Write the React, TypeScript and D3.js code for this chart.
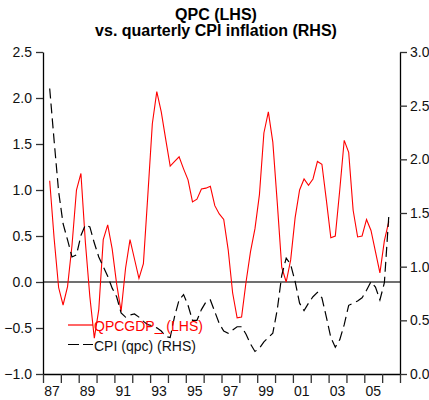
import { useEffect, useRef } from "react";
import * as d3 from "d3";

// quarterly series, 1987Q2 .. 2006Q2
const startYear = 1987;
const startQuarter = 2;

const qpcGdp = [
  1.10, 0.47, -0.06, -0.25, -0.05, 0.40, 1.00, 1.18, 0.43, -0.16,
  -0.61, -0.30, 0.46, 0.62, 0.36, -0.02, -0.32, 0.15, 0.46, 0.25,
  0.04, 0.20, 0.95, 1.72, 2.07, 1.85, 1.55, 1.26, 1.31, 1.36,
  1.23, 1.11, 0.87, 0.90, 1.01, 1.02, 1.04, 0.83, 0.74, 0.68,
  0.35, -0.12, -0.39, -0.38, 0.00, 0.33, 0.58, 0.95, 1.62, 1.85,
  1.52, 0.86, 0.16, 0.00, 0.24, 0.70, 1.00, 1.12, 1.05, 1.12,
  1.31, 1.28, 0.89, 0.48, 0.50, 1.00, 1.54, 1.41, 0.78, 0.49,
  0.50, 0.68, 0.56, 0.33, 0.10, 0.45, 0.66,
];

const cpiQpc = [
  2.66, 2.17, 1.70, 1.40, 1.25, 1.09, 1.11, 1.29, 1.39, 1.37,
  1.22, 1.09, 1.00, 0.91, 0.80, 0.72, 0.57, 0.53, 0.55, 0.56,
  0.53, 0.49, 0.46, 0.45, 0.43, 0.40, 0.35, 0.34, 0.54, 0.69,
  0.74, 0.64, 0.50, 0.50, 0.60, 0.67, 0.69, 0.58, 0.47, 0.40,
  0.38, 0.41, 0.44, 0.44, 0.37, 0.28, 0.21, 0.24, 0.30, 0.34,
  0.38, 0.60, 0.92, 1.08, 1.02, 0.86, 0.66, 0.59, 0.66, 0.72,
  0.76, 0.71, 0.53, 0.34, 0.25, 0.32, 0.46, 0.64, 0.66, 0.68,
  0.71, 0.78, 0.86, 0.81, 0.69, 0.85, 1.48,
];

const leftTicks = [2.5, 2.0, 1.5, 1.0, 0.5, 0.0, -0.5, -1.0];
const rightTicks = [3.0, 2.5, 2.0, 1.5, 1.0, 0.5, 0.0];
const yearLabels = ["87", "89", "91", "93", "95", "97", "99", "01", "03", "05"];

const titleLines = ["QPC (LHS)", "vs. quarterly CPI inflation (RHS)"];
const legendNames = ["QPCGDP_ (LHS)", "CPI (qpc) (RHS)"];

const FONT = "'Liberation Sans', Arial, sans-serif";

export default function App() {
  const svgRef = useRef<SVGSVGElement>(null);

  useEffect(() => {
    if (!svgRef.current) return;
    const svg = d3.select(svgRef.current);
    svg.selectAll("*").remove();

    const width = 429;
    const height = 400;
    const margin = { top: 52, right: 29, bottom: 26, left: 43 };

    svg.attr("width", width).attr("height", height);

    const x = d3
      .scaleLinear()
      .domain([1987, 2007])
      .range([margin.left, width - margin.right]);
    const yL = d3
      .scaleLinear()
      .domain([-1, 2.5])
      .range([height - margin.bottom, margin.top]);
    const yR = d3
      .scaleLinear()
      .domain([0, 3])
      .range([height - margin.bottom, margin.top]);

    const dates = qpcGdp.map(
      (_d, i) => startYear + (startQuarter - 1 + i) / 4 + 0.125
    );

    // title
    const title = svg
      .append("text")
      .attr("text-anchor", "middle")
      .attr("font-family", FONT)
      .attr("font-weight", "bold")
      .attr("font-size", 16)
      .attr("fill", "#000");
    titleLines.forEach((t, i) => {
      title
        .append("tspan")
        .attr("x", 216)
        .attr("y", 20 + i * 16)
        .text(t);
    });

    // zero line
    svg
      .append("line")
      .attr("x1", x(1987))
      .attr("x2", x(2007))
      .attr("y1", yL(0))
      .attr("y2", yL(0))
      .attr("stroke", "#707070")
      .attr("stroke-width", 2);

    // left axis
    const leftAxis = d3
      .axisLeft(yL)
      .tickValues(leftTicks)
      .tickFormat(d3.format(".1f"))
      .tickSize(7)
      .tickSizeOuter(0)
      .tickPadding(4);
    const gl = svg
      .append("g")
      .attr("transform", `translate(${margin.left},0)`)
      .call(leftAxis);

    // right axis
    const rightAxis = d3
      .axisRight(yR)
      .tickValues(rightTicks)
      .tickFormat(d3.format(".1f"))
      .tickSize(7)
      .tickSizeOuter(0)
      .tickPadding(3);
    const gr = svg
      .append("g")
      .attr("transform", `translate(${width - margin.right},0)`)
      .call(rightAxis);

    // bottom axis: ticks at every year boundary, labels mid-year
    const bottomAxis = d3
      .axisBottom(x)
      .tickValues(d3.range(1987, 2008))
      .tickFormat(() => "")
      .tickSize(9)
      .tickSizeOuter(0);
    const gb = svg
      .append("g")
      .attr("transform", `translate(0,${height - margin.bottom})`)
      .call(bottomAxis);

    [gl, gr, gb].forEach((g) => {
      g.select(".domain").attr("stroke", "#000").attr("stroke-width", 1.3);
      g.selectAll(".tick line").attr("stroke", "#333").attr("stroke-width", 1.3);
      g.selectAll("text")
        .attr("font-family", FONT)
        .attr("font-size", 14)
        .attr("fill", "#111");
    });

    svg
      .append("g")
      .selectAll("text")
      .data(yearLabels)
      .join("text")
      .attr("x", (_d, i) => x(1987 + i * 2 + 0.5))
      .attr("y", height - 4)
      .attr("text-anchor", "middle")
      .attr("font-family", FONT)
      .attr("font-size", 14)
      .attr("fill", "#111")
      .text((d) => d);

    // series
    const lineL = d3
      .line<number>()
      .x((_d, i) => x(dates[i]))
      .y((d) => yL(d));
    const lineR = d3
      .line<number>()
      .x((_d, i) => x(dates[i]))
      .y((d) => yR(d));

    svg
      .append("path")
      .datum(qpcGdp)
      .attr("fill", "none")
      .attr("stroke", "#ff0000")
      .attr("stroke-width", 1.1)
      .attr("d", lineL);

    svg
      .append("path")
      .datum(cpiQpc)
      .attr("fill", "none")
      .attr("stroke", "#000")
      .attr("stroke-width", 1.2)
      .attr("stroke-dasharray", "10,5")
      .attr("d", lineR);

    // legend
    const legend = svg.append("g").attr("transform", "translate(68,325)");
    const legendStyles = [
      { stroke: "#ff0000", dash: null, text: "#ff0000" },
      { stroke: "#000", dash: "11,4", text: "#111" },
    ];
    legendNames.forEach((name, i) => {
      const row = legend.append("g").attr("transform", `translate(0,${i * 19.5})`);
      row
        .append("line")
        .attr("x1", 0)
        .attr("x2", 25)
        .attr("y1", 0)
        .attr("y2", 0)
        .attr("stroke", legendStyles[i].stroke)
        .attr("stroke-width", 1.2)
        .attr("stroke-dasharray", legendStyles[i].dash);
      row
        .append("text")
        .attr("x", 26)
        .attr("y", 6)
        .attr("font-family", FONT)
        .attr("font-size", 14)
        .attr("fill", legendStyles[i].text)
        .text(name);
    });
  }, []);

  return (
    <div style={{ position: "absolute", left: 0, top: 0, width: 429, height: 400, background: "#fff" }}>
      <svg ref={svgRef} />
    </div>
  );
}
